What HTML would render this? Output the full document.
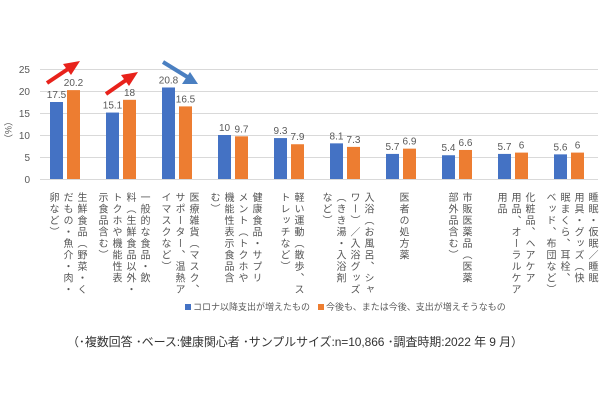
<!DOCTYPE html>
<html><head><meta charset="utf-8"><style>
body{margin:0;background:#fff;width:600px;height:400px;overflow:hidden;position:relative;font-family:"Liberation Sans","Noto Sans CJK JP",sans-serif;}
.lbl{position:absolute;top:192px;writing-mode:vertical-rl;font-size:10px;line-height:14px;letter-spacing:1.5px;color:#555;transform:translateX(-50%);white-space:nowrap;}
</style></head><body>
<svg width="600" height="400" style="position:absolute;left:0;top:0">
<g stroke="#d9d9d9" stroke-width="1">
<line x1="40" y1="179.5" x2="598" y2="179.5"/>
<line x1="40" y1="157.5" x2="598" y2="157.5"/>
<line x1="40" y1="135.5" x2="598" y2="135.5"/>
<line x1="40" y1="113.5" x2="598" y2="113.5"/>
<line x1="40" y1="91.5" x2="598" y2="91.5"/>
<line x1="40" y1="69.5" x2="598" y2="69.5"/>
</g>
<g font-size="10" fill="#595959" text-anchor="end" font-family="Liberation Sans">
<text x="30" y="183">0</text><text x="30" y="161">5</text><text x="30" y="139">10</text>
<text x="30" y="117">15</text><text x="30" y="95">20</text><text x="30" y="73">25</text>
</g>
<text x="0" y="0" font-size="9" fill="#595959" transform="translate(5,130) rotate(90)" text-anchor="middle">（%）</text>
<g id="bars"></g>
<g font-size="10" fill="#595959" text-anchor="middle" id="vals"></g>
<line x1="47" y1="83" x2="71" y2="67" stroke="#e8221b" stroke-width="4"/>
<polygon points="80,61 63,64 71,75" fill="#e8221b"/>
<line x1="106" y1="94" x2="129" y2="78" stroke="#e8221b" stroke-width="4"/>
<polygon points="138,72 121,75 129,86" fill="#e8221b"/>
<line x1="163" y1="62" x2="189" y2="78" stroke="#4a7fc1" stroke-width="4"/>
<polygon points="198,84 182,84 190,72" fill="#4a7fc1"/>
<rect x="185" y="304" width="6" height="6" fill="#4472c4"/>
<text x="193" y="310" font-size="9" fill="#595959">コロナ以降支出が増えたもの</text>
<rect x="318" y="304" width="6" height="6" fill="#ed7d31"/>
<text x="326" y="310" font-size="9" fill="#595959">今後も、または今後、支出が増えそうなもの</text>
<text x="67" y="346" font-size="12" fill="#333" textLength="456">（･複数回答 ･ベース:健康関心者 ･サンプルサイズ:n=10,866 ･調査時期:2022 年 9 月）</text>
</svg>
<script>
var b=[17.5,15.1,20.8,10,9.3,8.1,5.7,5.4,5.7,5.6],o=[20.2,18,16.5,9.7,7.9,7.3,6.9,6.6,6,6];
var s='',t='';
for(var i=0;i<10;i++){var x=50+56*i;var hb=b[i]*4.4,ho=o[i]*4.4;
s+='<rect x="'+x+'" y="'+(179-hb)+'" width="13" height="'+hb+'" fill="#4472c4"/>';
s+='<rect x="'+(x+17)+'" y="'+(179-ho)+'" width="13" height="'+ho+'" fill="#ed7d31"/>';
t+='<text x="'+(x+6.5)+'" y="'+(175-hb)+'">'+b[i]+'</text><text x="'+(x+23.5)+'" y="'+(175-ho)+'">'+o[i]+'</text>';}
document.getElementById('bars').innerHTML=s;document.getElementById('vals').innerHTML=t;
</script>
<div class="lbl" style="left:66px">生鮮食品（野菜・く<br>だもの・魚介・肉・<br>卵など）</div>
<div class="lbl" style="left:122px">一般的な食品・飲<br>料（生鮮食品以外・<br>トクホや機能性表<br>示食品含む）</div>
<div class="lbl" style="left:178px">医療雑貨（マスク、<br>サポーター、温熱ア<br>イマスクなど）</div>
<div class="lbl" style="left:234px">健康食品・サプリ<br>メント（トクホや<br>機能性表示食品含<br>む）</div>
<div class="lbl" style="left:290px">軽い運動（散歩、ス<br>トレッチなど）</div>
<div class="lbl" style="left:346px">入浴（お風呂、シャ<br>ワー）／入浴グッズ<br>（きき湯・入浴剤<br>など）</div>
<div class="lbl" style="left:402px">医者の処方薬</div>
<div class="lbl" style="left:458px">市販医薬品（医薬<br>部外品含む）</div>
<div class="lbl" style="left:514px">化粧品、ヘアケア<br>用品、オーラルケア<br>用品</div>
<div class="lbl" style="left:570px">睡眠・仮眠／睡眠<br>用具・グッズ（快<br>眠まくら、耳栓、<br>ベッド、布団など）</div>
</body></html>
